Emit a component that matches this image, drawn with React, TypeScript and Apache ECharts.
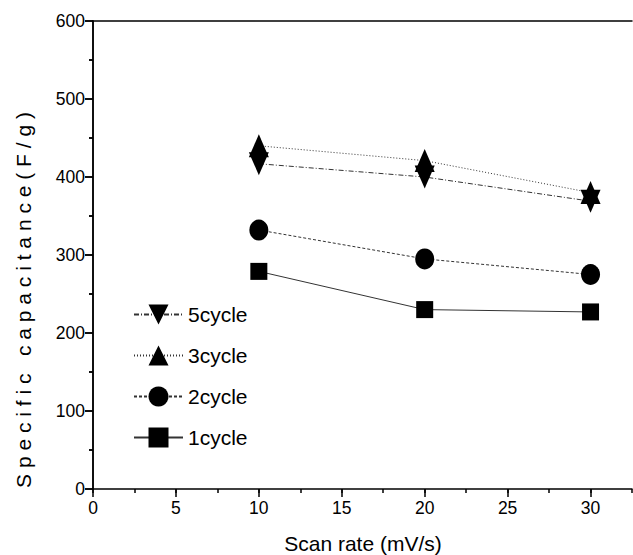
import React, { useEffect, useRef } from "react";
import * as echarts from "echarts";

const scanRates = [10, 20, 30];
const cycle1 = [279, 230, 227];
const cycle2 = [332, 295, 275];
const cycle3 = [440, 421, 380];
const cycle5 = [417, 400, 369];

const xTicks = [0, 5, 10, 15, 20, 25, 30];
const yTicks = [0, 100, 200, 300, 400, 500, 600];

const FONT = "'Liberation Sans', Arial, Helvetica, sans-serif";
const yTitle = "Specific capacitance(F/g)";
const xTitle = "Scan rate (mV/s)";

function spaced(s: string): string {
  return s
    .split("")
    .map((c) => (c === " " ? "\u00A0" : c))
    .join("\u00A0");
}

const pair = (ys: number[]) => scanRates.map((x, i) => [x, ys[i]]);

export default function App() {
  const ref = useRef<HTMLDivElement>(null);
  useEffect(() => {
    if (!ref.current) return;
    const chart = echarts.init(ref.current, undefined, { renderer: "svg" });
    const axisLine = { show: true, lineStyle: { color: "#000", width: 1.5 } };
    const common = { type: "value", min: 0, max: 32.5, splitLine: { show: false } };
    const lineBase = (name: string, ys: number[], symbol: string, size: any, type: any) => ({
      name,
      type: "line",
      xAxisIndex: 0,
      yAxisIndex: 0,
      data: pair(ys),
      symbol,
      symbolSize: size,
      symbolKeepAspect: false,
      showAllSymbol: true,
      itemStyle: { color: "#000", opacity: 1 },
      lineStyle: { color: "#333", width: 1, type },
      emphasis: { disabled: true },
      z: 3,
    });
    chart.setOption({
      animation: false,
      backgroundColor: "#fff",
      textStyle: { fontFamily: FONT },
      grid: { left: 93, top: 21, right: 1, bottom: 66, outerBoundsMode: "none", containLabel: false },
      xAxis: [
        {
          ...common,
          position: "bottom",
          interval: 5,
          axisLine,
          axisTick: { show: true, length: 8, inside: false, lineStyle: { color: "#000", width: 1.5 } },
          axisLabel: {
            show: true,
            fontSize: 17.5,
            color: "#000",
            margin: 10,
            fontFamily: FONT,
            showMaxLabel: false,
            formatter: (v: number) => (xTicks.includes(v) ? String(v) : ""),
          },
        },
        {
          ...common,
          position: "bottom",
          interval: 2.5,
          axisLine: { show: false },
          axisTick: { show: true, length: 4, inside: false, lineStyle: { color: "#000", width: 1.5 } },
          axisLabel: { show: false },
        },
        {
          ...common,
          position: "top",
          interval: 5,
          axisLine,
          axisTick: { show: false },
          axisLabel: { show: false },
        },
      ],
      yAxis: [
        {
          type: "value",
          position: "left",
          min: 0,
          max: 600,
          interval: 100,
          splitLine: { show: false },
          axisLine,
          axisTick: { show: true, length: 8, inside: false, lineStyle: { color: "#000", width: 1.5 } },
          minorTick: { show: true, splitNumber: 2, length: 4, lineStyle: { color: "#000", width: 1.5 } },
          axisLabel: {
            fontSize: 17.5,
            color: "#000",
            margin: 8,
            fontFamily: FONT,
            formatter: (v: number) => (yTicks.includes(v) ? String(v) : ""),
          },
        },
        {
          type: "value",
          position: "right",
          min: 0,
          max: 600,
          interval: 100,
          splitLine: { show: false },
          axisLine,
          axisTick: { show: true, length: 8, inside: true, lineStyle: { color: "#000", width: 1.5 } },
          minorTick: { show: true, splitNumber: 2, length: 4, lineStyle: { color: "#000", width: 1.5 } },
          axisLabel: { show: false },
        },
      ],
      legend: {
        orient: "vertical",
        left: 133,
        top: 304,
        padding: 0,
        itemWidth: 49,
        itemHeight: 25,
        itemGap: 20,
        selectedMode: false,
        textStyle: { fontSize: 21, color: "#000", fontFamily: FONT },
        data: ["5cycle", "3cycle", "2cycle", "1cycle"],
      },
      series: [
        lineBase("1cycle", cycle1, "rect", [17, 17], "solid"),
        lineBase("2cycle", cycle2, "circle", [19, 21], [3, 2]),
        lineBase("3cycle", cycle3, "triangle", [20, 23], [1, 2]),
        lineBase("5cycle", cycle5, "path://M0,0L2,0L1,2Z", [20, 23], [5, 2, 1, 2]),
      ],
      graphic: [
        {
          type: "text",
          x: 23,
          y: 300,
          rotation: Math.PI / 2,
          style: {
            text: spaced(yTitle),
            font: `21px ${FONT}`,
            fill: "#000",
            align: "center",
            verticalAlign: "middle",
          },
        },
        {
          type: "text",
          x: 363,
          y: 543,
          style: {
            text: xTitle,
            font: `21px ${FONT}`,
            fill: "#000",
            align: "center",
            verticalAlign: "middle",
          },
        },
      ],
    });
    return () => chart.dispose();
  }, []);
  return (
    <div
      ref={ref}
      style={{ position: "absolute", left: 0, top: 0, width: 633, height: 555, background: "#fff" }}
    />
  );
}
